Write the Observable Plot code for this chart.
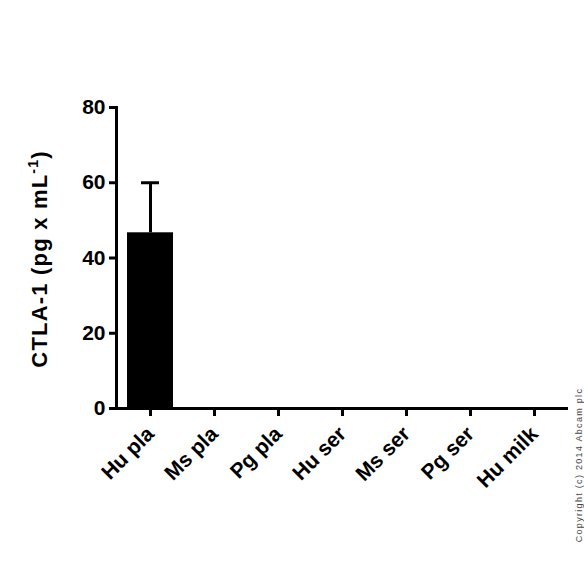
<!DOCTYPE html>
<html>
<head>
<meta charset="utf-8">
<script src="https://cdn.jsdelivr.net/npm/d3@7"></script>
<script src="https://cdn.jsdelivr.net/npm/@observablehq/plot@0.6"></script>
<style>
  html, body { margin: 0; padding: 0; background: #fff; }
  #chart svg { display: block; }
</style>
</head>
<body>
<div id="chart"></div>
<script>
const categories = ["Hu pla", "Ms pla", "Pg pla", "Hu ser", "Ms ser", "Pg ser", "Hu milk"];
const means = [46.7, 0, 0, 0, 0, 0, 0];
const errors = [13.3, 0, 0, 0, 0, 0, 0];
const yTicks = [0, 20, 40, 60, 80];
const yLabel = "CTLA-1 (pg x mL";
const yLabelSup = "-1";
const copyright = "Copyright (c) 2014 Abcam plc";

const data = categories.map((c, i) => ({cat: c, mean: means[i], err: errors[i], hi: means[i] + errors[i]}));
const errData = data.filter(d => d.err > 0);

const font = "'Liberation Sans', Arial, Helvetica, sans-serif";

const chart = Plot.plot({
  width: 584,
  height: 584,
  marginLeft: 116,
  marginRight: 16,
  marginTop: 107,
  marginBottom: 176,
  style: {fontFamily: font, fontWeight: "bold", color: "#000", background: "#fff", overflow: "visible"},
  x: {domain: categories, padding: 0},
  y: {domain: [0, 80]},
  marks: [
    Plot.ruleX(errData, {x: "cat", y1: "mean", y2: "hi", stroke: "#000", strokeWidth: 3}),
    Plot.tickY(errData, {x: "cat", y: "hi", stroke: "#000", strokeWidth: 3, insetLeft: 23, insetRight: 23}),
    Plot.barY(data, {x: "cat", y: "mean", fill: "#000", insetLeft: 9, insetRight: 9}),
    Plot.frame({anchor: "left", stroke: "#000", strokeWidth: 3}),
    Plot.ruleY([0], {stroke: "#000", strokeWidth: 3}),
    Plot.axisY({ticks: yTicks, tickSize: 7, tickPadding: 4, strokeWidth: 3, fontSize: 21, label: null}),
    Plot.axisX({tickSize: 8, tickPadding: 14, tickRotate: -45, strokeWidth: 3, fontSize: 21, label: null})
  ]
});

const svg = d3.select(chart);

const lab = svg.append("text")
  .attr("transform", "translate(47,259) rotate(-90)")
  .attr("text-anchor", "middle")
  .style("font-family", font)
  .style("font-weight", "bold")
  .style("font-size", "22px")
  .style("letter-spacing", "1.2px")
  .attr("fill", "#000");
lab.append("tspan").text(yLabel);
lab.append("tspan").style("font-size", "14px").attr("dy", -9).text(yLabelSup);
lab.append("tspan").attr("dy", 9).text(")");

svg.append("text")
  .attr("transform", "translate(582,465) rotate(-90)")
  .attr("text-anchor", "middle")
  .style("font-family", font)
  .style("font-weight", "normal")
  .style("font-size", "9px")
  .style("letter-spacing", "1.3px")
  .attr("fill", "#444")
  .text(copyright);

document.getElementById("chart").appendChild(chart);
</script>
</body>
</html>
